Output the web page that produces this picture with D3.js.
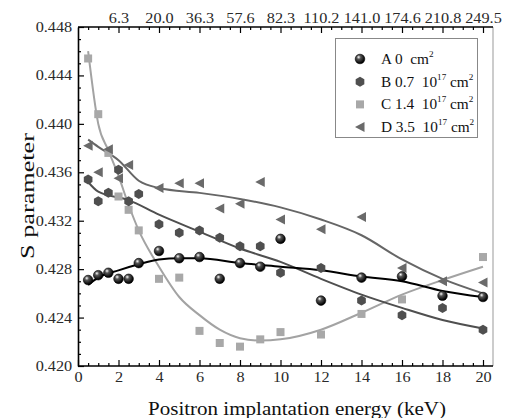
<!DOCTYPE html>
<html>
<head>
<meta charset="utf-8">
<script src="https://cdn.jsdelivr.net/npm/d3@7"></script>
<style>
  body { margin: 0; background: #fff; }
  text { font-family: "Liberation Serif", "Times New Roman", serif; }
</style>
</head>
<body>
<div class="plot1"></div>
<script>
// measured points (energy in keV, S parameter)
var energyA = [0.5, 1, 1.5, 2, 2.5, 3, 4, 5, 6, 7, 8, 9, 10, 12, 14, 16, 18, 20];
var sA = [0.4271, 0.4275, 0.4277, 0.4272, 0.4272, 0.4285, 0.4295, 0.4289, 0.4290, 0.4272, 0.4285, 0.4282, 0.4305, 0.4254, 0.4273, 0.4274, 0.4258, 0.4257];

var energyB = [0.5, 1, 1.5, 2, 2.5, 3, 4, 5, 6, 7, 8, 9, 10, 12, 14, 16, 18, 20];
var sB = [0.4354, 0.4336, 0.4343, 0.4362, 0.4336, 0.4342, 0.4317, 0.4310, 0.4312, 0.4306, 0.4299, 0.4299, 0.4277, 0.4281, 0.4254, 0.4242, 0.4248, 0.4230];

var energyC = [0.5, 1, 1.5, 2, 2.5, 3, 4, 5, 6, 7, 8, 9, 10, 12, 14, 16, 20];
var sC = [0.4454, 0.4408, 0.4376, 0.4340, 0.4329, 0.4312, 0.4272, 0.4273, 0.4229, 0.4219, 0.4216, 0.4222, 0.4228, 0.4226, 0.4243, 0.4255, 0.4290];

var energyD = [0.5, 1, 1.5, 2, 2.5, 4, 5, 6, 7, 8, 9, 10, 12, 14, 16, 18, 20];
var sD = [0.4382, 0.4360, 0.4379, 0.4355, 0.4366, 0.4347, 0.4351, 0.4351, 0.4330, 0.4334, 0.4352, 0.4321, 0.4313, 0.4323, 0.4281, 0.4270, 0.4269];

// fitted curves
var fitEA = [0.5, 1, 2, 3, 4, 5, 6, 8, 10, 12, 14, 16, 18, 20];
var fitA = [0.4267, 0.4273, 0.4279, 0.4284, 0.4288, 0.4289, 0.4289, 0.4285, 0.4282, 0.4279, 0.4274, 0.4270, 0.4262, 0.4257];
var fitEB = [0.5, 1, 2.5, 4, 6, 8, 10, 12, 14, 16, 18, 20];
var fitB = [0.4352, 0.4344, 0.4337, 0.4325, 0.4311, 0.4297, 0.4286, 0.4272, 0.4259, 0.4248, 0.4238, 0.4231];
var fitEC = [0.5, 1, 1.5, 2, 2.5, 3, 4, 5, 6, 7, 8, 9, 10, 12, 14, 16, 18, 20];
var fitC = [0.4460, 0.4400, 0.4378, 0.4357, 0.4333, 0.4312, 0.4282, 0.4257, 0.4242, 0.4230, 0.4223, 0.4221, 0.4222, 0.4230, 0.4244, 0.4259, 0.4271, 0.4282];
var fitED = [0.5, 1, 2, 3, 4, 6, 8, 10, 12, 14, 16, 18, 20];
var fitD = [0.4387, 0.4381, 0.4370, 0.4353, 0.4347, 0.4343, 0.4338, 0.4331, 0.4321, 0.4308, 0.4288, 0.4272, 0.4260];

var xTicks = [0, 2, 4, 6, 8, 10, 12, 14, 16, 18, 20];
var topTicks = [2, 4, 6, 8, 10, 12, 14, 16, 18, 20];
var topLabels = ["6.3", "20.0", "36.3", "57.6", "82.3", "110.2", "141.0", "174.6", "210.8", "249.5"];
var yTicks = [0.420, 0.424, 0.428, 0.432, 0.436, 0.440, 0.444, 0.448];

var legendNames = ["A 0  cm", "B 0.7  10", "C 1.4  10", "D 3.5  10"];
var legendExp = [false, true, true, true];

var W = 514, H = 418;
var pL = 78, pR = 493, pT = 27, pB = 366;

var svg = d3.select(".plot1").append("svg")
  .attr("width", W)
  .attr("height", H);

var x = d3.scaleLinear().domain([0, 20]).range([pL, pL + 20 * 20.25]);
var y = d3.scaleLinear().domain([0.420, 0.448]).range([pB, pT]);

var defs = svg.append("defs");
var grad = defs.append("radialGradient")
  .attr("id", "ball")
  .attr("cx", "40%").attr("cy", "35%").attr("r", "60%")
  .attr("fx", "35%").attr("fy", "30%");
grad.append("stop").attr("offset", "0%").attr("stop-color", "#ffffff");
grad.append("stop").attr("offset", "35%").attr("stop-color", "#555555");
grad.append("stop").attr("offset", "100%").attr("stop-color", "#000000");

// right border
svg.append("line")
  .attr("x1", pR).attr("x2", pR).attr("y1", pT).attr("y2", pB)
  .attr("stroke", "#999").attr("stroke-width", 1);

// axes
var minorX = d3.range(0, 20.01, 0.5).filter(function(d) { return d % 2 !== 0; });
var minorY = d3.range(0, 29).map(function(i) { return 0.420 + i * 0.001; })
  .filter(function(d, i) { return i % 4 !== 0; });

svg.append("g")
  .attr("class", "minor")
  .attr("transform", "translate(0," + pB + ")")
  .call(d3.axisBottom(x).tickValues(minorX).tickSize(-3).tickFormat("").tickSizeOuter(0));
var bottomMajor = svg.append("g")
  .attr("transform", "translate(0," + pB + ")")
  .call(d3.axisBottom(x).tickValues(xTicks).tickSize(-6).tickPadding(6).tickSizeOuter(0).tickFormat(d3.format("d")));

svg.append("g")
  .attr("class", "minor")
  .attr("transform", "translate(0," + pT + ")")
  .call(d3.axisTop(x).tickValues(minorX).tickSize(-3).tickFormat("").tickSizeOuter(0));
var topMajor = svg.append("g")
  .attr("transform", "translate(0," + pT + ")")
  .call(d3.axisTop(x).tickValues(topTicks).tickSize(-6).tickPadding(4).tickSizeOuter(0)
    .tickFormat(function(d, i) { return topLabels[i]; }));

svg.append("g")
  .attr("class", "minor")
  .attr("transform", "translate(" + pL + ",0)")
  .call(d3.axisLeft(y).tickValues(minorY).tickSize(-3).tickFormat("").tickSizeOuter(0));
var leftMajor = svg.append("g")
  .attr("transform", "translate(" + pL + ",0)")
  .call(d3.axisLeft(y).tickValues(yTicks).tickSize(-6).tickPadding(5).tickSizeOuter(0).tickFormat(d3.format(".3f")));

svg.selectAll(".minor .domain").remove();
svg.selectAll(".domain").attr("stroke", "#000").attr("stroke-width", 1.6);
bottomMajor.select(".domain").attr("d", "M" + pL + ",0H" + pR);
topMajor.select(".domain").attr("d", "M" + pL + ",0H" + pR);
svg.selectAll(".tick line").attr("stroke", "#000").attr("stroke-width", 1.2);
svg.selectAll(".tick text").attr("font-size", 14).attr("fill", "#2a2a2a")
  .style("font-family", "'Liberation Serif', serif")
  .attr("transform", "scale(1.16,1)");

// axis titles
svg.append("text")
  .attr("x", 297).attr("y", 415)
  .attr("text-anchor", "middle")
  .attr("font-size", 19)
  .attr("textLength", 298)
  .attr("lengthAdjust", "spacingAndGlyphs")
  .attr("fill", "#111")
  .text("Positron implantation energy (keV)");

svg.append("text")
  .attr("transform", "translate(34,196) rotate(-90)")
  .attr("text-anchor", "middle")
  .attr("font-size", 19)
  .attr("textLength", 126)
  .attr("lengthAdjust", "spacingAndGlyphs")
  .attr("fill", "#111")
  .text("S parameter");

// fit lines
var line = d3.line()
  .x(function(d) { return x(d[0]); })
  .y(function(d) { return y(d[1]); })
  .curve(d3.curveMonotoneX);

var fits = [
  { e: fitEC, s: fitC, color: "#a3a3a3" },
  { e: fitED, s: fitD, color: "#666666" },
  { e: fitEB, s: fitB, color: "#4f4f4f" },
  { e: fitEA, s: fitA, color: "#000000" }
];

svg.selectAll("path.fit")
  .data(fits)
  .enter()
  .append("path")
  .attr("class", "fit")
  .attr("d", function(d) { return line(d3.zip(d.e, d.s)); })
  .attr("fill", "none")
  .attr("stroke", function(d) { return d.color; })
  .attr("stroke-width", 2);

// markers
function hexPath(r) {
  var pts = d3.range(6).map(function(i) {
    var a = Math.PI / 6 + i * Math.PI / 3;
    return [r * Math.cos(a), r * Math.sin(a)];
  });
  return "M" + pts.join("L") + "Z";
}
var triPath = "M-5,0L4.5,-5L4.5,5Z";

function drawC(g) {
  g.append("rect").attr("x", -4).attr("y", -4).attr("width", 8).attr("height", 8).attr("fill", "#a8a8a8");
}
function drawD(g) {
  g.append("path").attr("d", triPath).attr("fill", "#6a6a6a");
}
function drawB(g) {
  g.append("path").attr("d", hexPath(5)).attr("fill", "#4f4f4f");
}
function drawA(g) {
  g.append("circle").attr("r", 4.8).attr("fill", "url(#ball)").attr("stroke", "#000").attr("stroke-width", 0.6);
}

var series = [
  { e: energyC, s: sC, draw: drawC },
  { e: energyD, s: sD, draw: drawD },
  { e: energyB, s: sB, draw: drawB },
  { e: energyA, s: sA, draw: drawA }
];

series.forEach(function(ser) {
  svg.append("g").selectAll("g")
    .data(d3.zip(ser.e, ser.s))
    .enter()
    .append("g")
    .attr("transform", function(d) { return "translate(" + x(d[0]) + "," + y(d[1]) + ")"; })
    .each(function() { ser.draw(d3.select(this)); });
});

// legend
var legend = svg.append("g");
legend.append("rect")
  .attr("x", 335.5).attr("y", 38.5).attr("width", 142).attr("height", 99)
  .attr("fill", "#fff").attr("stroke", "#888").attr("stroke-width", 1);

var legendDraw = [drawA, drawB, drawC, drawD];
legendNames.forEach(function(name, i) {
  var ly = 59 + i * 22.7;
  var g = legend.append("g").attr("transform", "translate(360," + ly + ")");
  legendDraw[i](g);
  var t = legend.append("g")
    .attr("transform", "translate(381," + (ly + 5) + ") scale(1.02,1)")
    .append("text")
    .attr("font-size", 15)
    .attr("fill", "#111")
    .style("white-space", "pre");
  t.append("tspan").text(name);
  if (legendExp[i]) {
    t.append("tspan").attr("font-size", 9).attr("dy", -7).text("17");
    t.append("tspan").attr("dy", 7).text(" cm");
  }
  t.append("tspan").attr("font-size", 9).attr("dy", -7).text("2");
});
</script>
</body>
</html>
